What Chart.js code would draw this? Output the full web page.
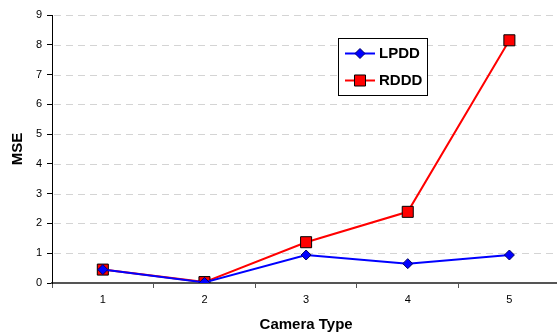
<!DOCTYPE html>
<html>
<head>
<meta charset="utf-8">
<script src="https://cdn.jsdelivr.net/npm/chart.js@4/dist/chart.umd.min.js"></script>
<style>
  html, body { margin: 0; padding: 0; background: #fff; overflow: hidden; }
  #wrap { width: 557px; height: 335px; overflow: hidden; position: relative; }
  #c { position: absolute; left: 0; top: 0; }
</style>
</head>
<body>
<div id="wrap"><canvas id="c" width="569" height="335"></canvas></div>
<script>
const categories = ['1', '2', '3', '4', '5'];
const lpdd = [0.45, 0.02, 0.94, 0.65, 0.94];
const rddd = [0.45, 0.03, 1.37, 2.39, 8.15];
const yTicks = [0, 1, 2, 3, 4, 5, 6, 7, 8, 9];
const seriesNames = ['LPDD', 'RDDD'];

const FONT = "'Liberation Sans', Arial, sans-serif";

function drawMarker(ctx, style, r, x, y) {
  if (style === 'rect') {
    const s = Math.SQRT1_2 * r;
    ctx.rect(x - s, y - s, 2 * s, 2 * s);
  } else {
    ctx.moveTo(x - r, y);
    ctx.lineTo(x, y - r);
    ctx.lineTo(x + r, y);
    ctx.lineTo(x, y + r);
    ctx.closePath();
  }
}

const dashedGrid = {
  id: 'dashedGrid',
  beforeDatasetsDraw(chart) {
    const ctx = chart.ctx;
    const y = chart.scales.y;
    const a = chart.chartArea;
    ctx.save();
    ctx.strokeStyle = '#d4d4d4';
    ctx.lineWidth = 1;
    ctx.setLineDash([7, 5]);
    y.ticks.forEach(t => {
      if (t.value === 0) return;
      const py = Math.round(y.getPixelForValue(t.value)) + 0.5;
      ctx.beginPath();
      ctx.moveTo(a.left + 2, py);
      ctx.lineTo(a.right, py);
      ctx.stroke();
    });
    ctx.restore();
  }
};

const legendPlugin = {
  id: 'insideLegend',
  afterDatasetsDraw(chart) {
    const ctx = chart.ctx;
    ctx.save();
    const x0 = 338.5, y0 = 38.5, w = 89, h = 57;
    ctx.fillStyle = '#ffffff';
    ctx.fillRect(x0, y0, w, h);
    ctx.strokeStyle = '#000000';
    ctx.lineWidth = 1;
    ctx.strokeRect(x0, y0, w, h);
    const rows = [53.5, 80.5];
    chart.data.datasets.forEach((ds, i) => {
      const y = rows[i];
      ctx.strokeStyle = ds.borderColor;
      ctx.lineWidth = 2;
      ctx.beginPath();
      ctx.moveTo(345, y);
      ctx.lineTo(375, y);
      ctx.stroke();
      ctx.fillStyle = ds.pointBackgroundColor;
      ctx.strokeStyle = ds.pointBorderColor;
      ctx.lineWidth = 1;
      ctx.beginPath();
      drawMarker(ctx, ds.pointStyle, ds.pointRadius, 360, y);
      ctx.fill();
      ctx.stroke();
      ctx.fillStyle = '#000000';
      ctx.font = 'bold 15px ' + FONT;
      ctx.textBaseline = 'middle';
      ctx.textAlign = 'left';
      ctx.fillText(ds.label, 379, y + 0.5);
    });
    ctx.restore();
  }
};

new Chart(document.getElementById('c'), {
  type: 'line',
  data: {
    labels: categories,
    datasets: [
      {
        label: seriesNames[0],
        data: lpdd,
        borderColor: '#0000ff',
        borderWidth: 2,
        pointStyle: 'rectRot',
        pointRadius: 5,
        pointBackgroundColor: '#0000ff',
        pointBorderColor: '#000066',
        pointBorderWidth: 1,
        tension: 0
      },
      {
        label: seriesNames[1],
        data: rddd,
        borderColor: '#ff0000',
        borderWidth: 2,
        pointStyle: 'rect',
        pointRadius: 7.8,
        pointBackgroundColor: '#ff0000',
        pointBorderColor: '#000000',
        pointBorderWidth: 1,
        tension: 0
      }
    ]
  },
  options: {
    responsive: false,
    animation: false,
    events: [],
    layout: { padding: { top: 15, right: 1, bottom: 0, left: 0 } },
    plugins: { legend: { display: false }, tooltip: { enabled: false } },
    scales: {
      x: {
        type: 'category',
        offset: true,
        grid: {
          offset: true,
          drawOnChartArea: false,
          drawTicks: true,
          tickLength: 5,
          tickColor: '#555555'
        },
        border: { display: true, color: '#555555', width: 2 },
        ticks: {
          color: '#000000',
          font: { family: FONT, size: 11 },
          padding: 5,
          maxRotation: 0
        },
        title: {
          display: true,
          text: 'Camera Type',
          color: '#000000',
          font: { family: FONT, size: 15, weight: 'bold' },
          padding: { top: 0, bottom: 1 }
        },
        afterFit(s) { s.height = 52; }
      },
      y: {
        min: 0,
        max: 9,
        afterBuildTicks(s) { s.ticks = yTicks.map(v => ({ value: v })); },
        grid: {
          drawOnChartArea: false,
          drawTicks: true,
          tickLength: 5,
          tickColor: '#000000'
        },
        border: { display: true, color: '#000000', width: 1 },
        ticks: {
          color: '#000000',
          font: { family: FONT, size: 11 },
          padding: 5
        },
        title: {
          display: true,
          text: 'MSE',
          color: '#000000',
          font: { family: FONT, size: 15, weight: 'bold' },
          padding: { top: 9, bottom: 0 }
        },
        afterFit(s) { s.width = 52; }
      }
    }
  },
  plugins: [dashedGrid, legendPlugin]
});
</script>
</body>
</html>
